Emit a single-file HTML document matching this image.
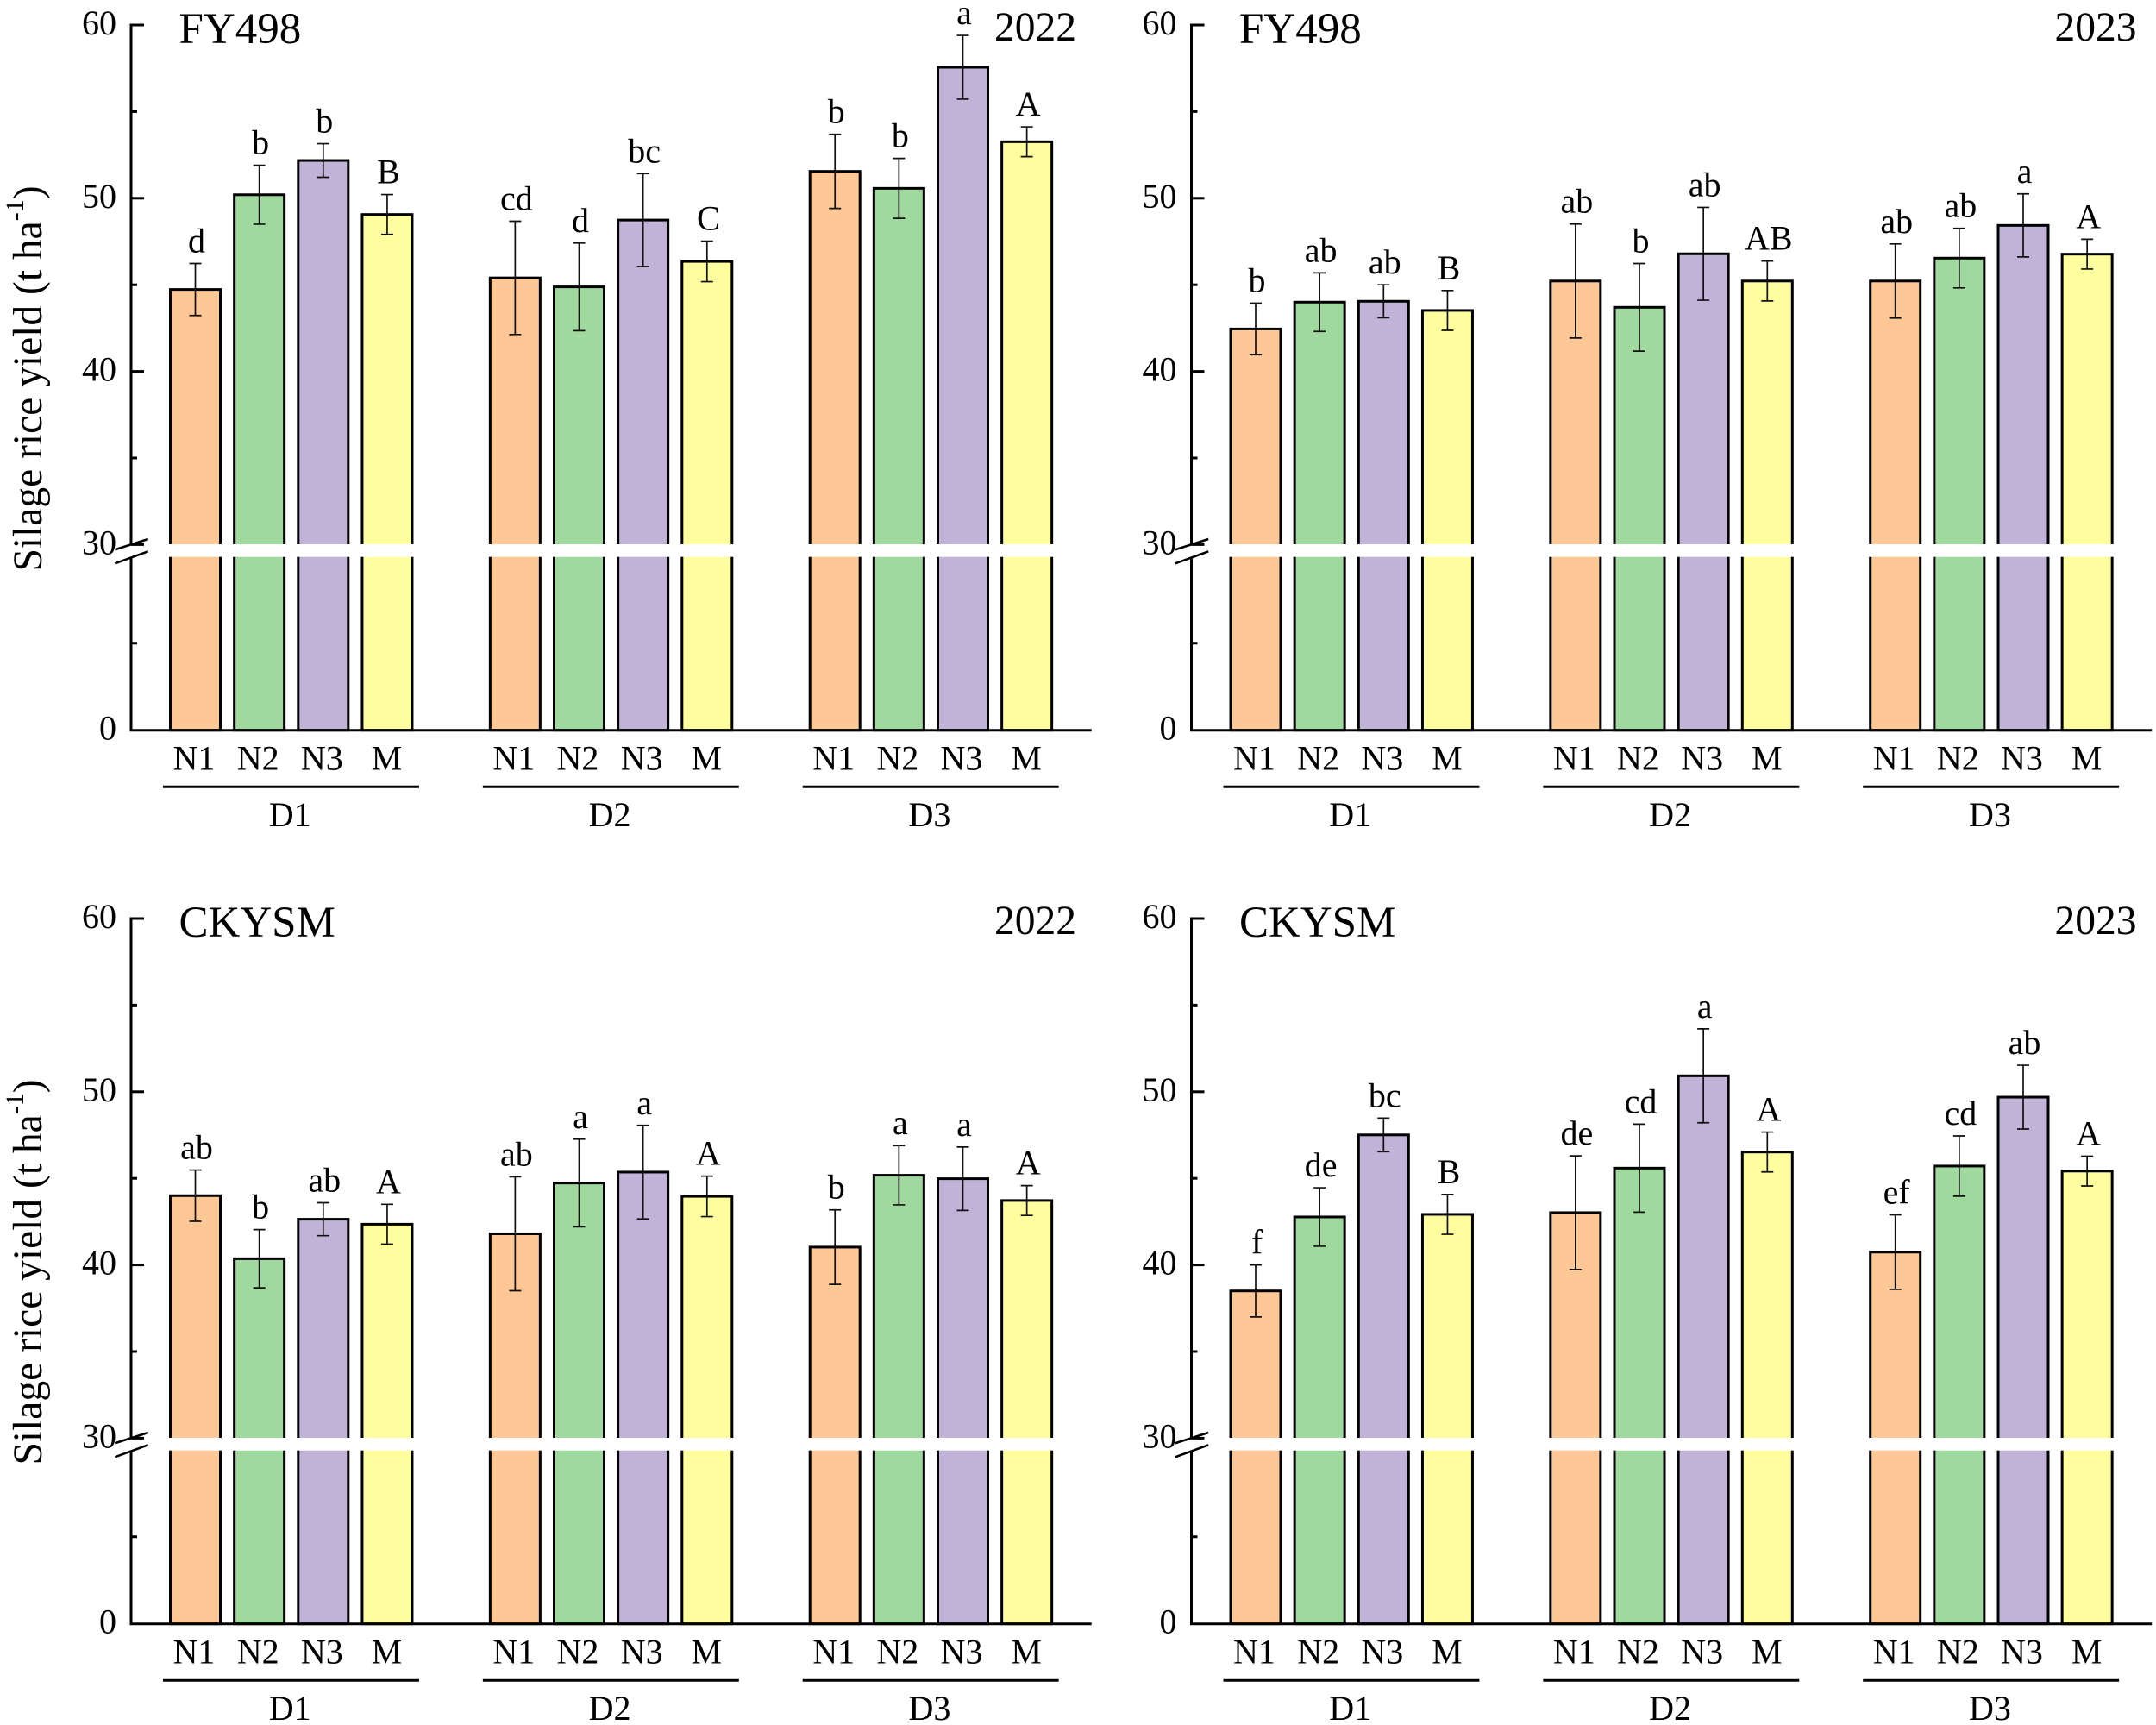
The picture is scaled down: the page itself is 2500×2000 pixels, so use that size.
<!DOCTYPE html>
<html lang="en">
<head>
<meta charset="utf-8">
<title>Silage rice yield</title>
<style>
html,body{margin:0;padding:0;background:#fff;}
svg{display:block;}
text{font-family:"Liberation Serif","Times New Roman",serif;fill:#000;}
</style>
</head>
<body>
<svg id="chart" xmlns="http://www.w3.org/2000/svg" width="2500" height="2000" viewBox="0 0 2500 2000"></svg>
<script>
// ---- data ----
const treatments = ['N1', 'N2', 'N3', 'M'];
const densities = ['D1', 'D2', 'D3'];
const majorTicks = [0, 30, 40, 50, 60];
const minorTicks = [15, 35, 45, 55];
const barColors = ['#FEC896', '#9FD99E', '#C1B2D7', '#FEFE9F'];

const cultivars = ['FY498', 'FY498', 'CKYSM', 'CKYSM'];
const years = ['2022', '2023', '2022', '2023'];

const yieldFY2022 = [44.73, 50.2, 52.18, 49.06, 45.4, 44.88, 48.74, 46.35, 51.55, 50.57, 57.56, 53.26];
const errorFY2022 = [1.5, 1.7, 0.97, 1.15, 3.27, 2.53, 2.68, 1.17, 2.14, 1.73, 1.84, 0.86];
const lettersFY2022 = ['d', 'b', 'b', 'B', 'cd', 'd', 'bc', 'C', 'b', 'b', 'a', 'A'];

const yieldFY2023 = [42.45, 44.0, 44.05, 43.52, 45.22, 43.7, 46.79, 45.22, 45.22, 46.54, 48.43, 46.77];
const errorFY2023 = [1.49, 1.69, 0.95, 1.15, 3.29, 2.53, 2.68, 1.15, 2.14, 1.72, 1.82, 0.86];
const lettersFY2023 = ['b', 'ab', 'ab', 'B', 'ab', 'b', 'ab', 'AB', 'ab', 'ab', 'a', 'A'];

const yieldCK2022 = [44.0, 40.36, 42.64, 42.35, 41.8, 44.73, 45.36, 43.96, 41.03, 45.18, 44.98, 43.72];
const errorCK2022 = [1.48, 1.68, 0.95, 1.15, 3.29, 2.53, 2.7, 1.17, 2.15, 1.71, 1.83, 0.86];
const lettersCK2022 = ['ab', 'b', 'ab', 'A', 'ab', 'a', 'a', 'A', 'b', 'a', 'a', 'A'];

const yieldCK2023 = [38.5, 42.77, 47.51, 42.92, 43.02, 45.59, 50.92, 46.52, 40.74, 45.71, 49.69, 45.42];
const errorCK2023 = [1.5, 1.69, 0.97, 1.15, 3.28, 2.54, 2.71, 1.15, 2.15, 1.74, 1.84, 0.86];
const lettersCK2023 = ['f', 'de', 'bc', 'B', 'de', 'cd', 'a', 'A', 'ef', 'cd', 'ab', 'A'];

const panelYields = [yieldFY2022, yieldFY2023, yieldCK2022, yieldCK2023];
const panelErrors = [errorFY2022, errorFY2023, errorCK2022, errorCK2023];
const panelLetters = [lettersFY2022, lettersFY2023, lettersCK2022, lettersCK2023];

// ---- drawing ----
const NS = 'http://www.w3.org/2000/svg';
const svg = document.getElementById('chart');

function make(tag, parent, attrs, txt) {
  const el = document.createElementNS(NS, tag);
  for (const k in attrs) el.setAttribute(k, attrs[k]);
  if (txt !== undefined) el.textContent = txt;
  parent.appendChild(el);
  return el;
}

// y axis: broken scale, upper 30-60 and lower 0-30
function yScale(v) {
  if (v >= 30) return 29 + (60 - v) * 20.08;
  return 846.7 - v * 6.73;
}
// x position of a bar centre
function xScale(groupIndex, barIndex) {
  return 226.5 + groupIndex * 370.85 + barIndex * 74.15;
}

function drawPanel(p) {
  const dx = (p % 2) * 1229.5;
  const dy = Math.floor(p / 2) * 1036;
  const g = make('g', svg, { transform: 'translate(' + dx + ',' + dy + ')' });
  
  

  const values = panelYields[p];
  const errors = panelErrors[p];
  const letters = panelLetters[p];

  // bars
  for (let i = 0; i < values.length; i++) {
    const gi = Math.floor(i / treatments.length);
    const bi = i % treatments.length;
    const cx = xScale(gi, bi);
    const top = yScale(values[i]);
    const bar = make('rect', g, {
      x: cx - 29, y: top, width: 58, height: yScale(0) - top,
      fill: barColors[bi], stroke: '#000', 'stroke-width': 3
    });
    
    
  }

  // y axis line
  const axisY = make('line', g, { x1: 152, y1: 27.5, x2: 152, y2: 848, stroke: '#000', 'stroke-width': 3 });
  
  

  // x axis line
  const axisX = make('line', g, { x1: 150.5, y1: 846.7, x2: 1265.7, y2: 846.7, stroke: '#000', 'stroke-width': 3 });
  
  

  // axis break band
  const band = make('rect', g, { x: 140, y: 631, width: 1130, height: 14.7, fill: '#fff' });
  
  

  // error bars and significance letters
  for (let i = 0; i < values.length; i++) {
    const gi = Math.floor(i / treatments.length);
    const bi = i % treatments.length;
    const cx = xScale(gi, bi);
    const hi = yScale(values[i] + errors[i]);
    const lo = yScale(values[i] - errors[i]);
    const stem = make('path', g, {
      d: 'M' + (cx - 7) + ' ' + hi + 'H' + (cx + 7) + 'M' + cx + ' ' + hi + 'V' + lo + 'M' + (cx - 7) + ' ' + lo + 'H' + (cx + 7),
      fill: 'none', stroke: '#111', 'stroke-width': 1.7
    });
    
    
    const label = make('text', g, { x: cx + 1.5, y: hi - 13, 'font-size': 40, 'text-anchor': 'middle' }, letters[i]);
    
    
  }

  // major ticks and labels
  majorTicks.forEach(function (t) {
    const y = yScale(t);
    if (t !== 0) {
      const tick = make('line', g, { x1: 152, y1: y, x2: 167, y2: y, stroke: '#000', 'stroke-width': 3 });
      
      
    }
    const lab = make('text', g, { x: 135, y: y + 11, 'font-size': 40, 'text-anchor': 'end' }, String(t));
    
    
  });

  // minor ticks
  minorTicks.forEach(function (t) {
    const y = yScale(t);
    const tick = make('line', g, { x1: 152, y1: y, x2: 159, y2: y, stroke: '#000', 'stroke-width': 3 });
    
    
  });

  // break slashes
  const slashA = make('line', g, { x1: 133.3, y1: 637.3, x2: 171.7, y2: 625, stroke: '#000', 'stroke-width': 2.6 });
  
  
  const slashB = make('line', g, { x1: 133.3, y1: 653.3, x2: 171.7, y2: 639.3, stroke: '#000', 'stroke-width': 2.6 });
  
  

  // category labels, group rules and group labels
  densities.forEach(function (d, gi) {
    treatments.forEach(function (t, bi) {
      const off = bi === treatments.length - 1 ? -0.5 : -1.5;
      const lab = make('text', g, { x: xScale(gi, bi) + off, y: 892.5, 'font-size': 40, 'text-anchor': 'middle' }, t);
      
      
    });
    const rule = make('line', g, {
      x1: xScale(gi, 0) - 37.5, y1: 912.3, x2: xScale(gi, 3) + 37, y2: 912.3,
      stroke: '#000', 'stroke-width': 3
    });
    
    
    const gl = make('text', g, { x: (xScale(gi, 0) + xScale(gi, 3)) / 2 - 1.5, y: 958, 'font-size': 40, 'text-anchor': 'middle' }, d);
    
    
  });

  // panel headings
  const cult = make('text', g, { x: 207.5, y: 50, 'font-size': 51 }, cultivars[p]);
  
  
  const yr = make('text', g, { x: 1248, y: 47, 'font-size': 47.5, 'text-anchor': 'end' }, years[p]);
  
  

  // y axis title on the left column
  if (dx === 0) {
    const title = make('text', g, { transform: 'translate(48,662.5) rotate(-90)', 'font-size': 47.5 });
    
    
    make('tspan', title, {}, 'Silage rice yield (t ha');
    make('tspan', title, { dy: -21, 'font-size': 30 }, '-1');
    make('tspan', title, { dy: 21 }, ')');
  }
}

panelYields.forEach(function (_, p) { drawPanel(p); });
</script>
</body>
</html>
